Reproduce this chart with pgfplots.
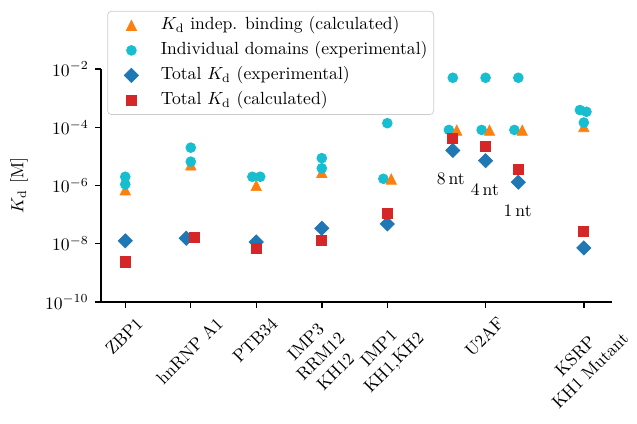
\documentclass[border=0pt]{standalone}
\usepackage{pgfplots}
\pgfplotsset{compat=1.18}
\usepackage{graphicx}
\definecolor{tOrange}{HTML}{FF7F0E}
\definecolor{tCyan}{HTML}{17BECF}
\definecolor{tBlue}{HTML}{1F77B4}
\definecolor{tRed}{HTML}{D62728}
\pgfdeclareplotmark{mtri}{%
 \pgfpathmoveto{\pgfqpoint{0pt}{\pgfplotmarksize}}%
 \pgfpathlineto{\pgfqpoint{-\pgfplotmarksize}{-\pgfplotmarksize}}%
 \pgfpathlineto{\pgfqpoint{\pgfplotmarksize}{-\pgfplotmarksize}}%
 \pgfpathclose\pgfusepathqfillstroke}
\newcommand{\rl}[1]{\rotatebox{45}{\begin{tabular}{@{}c@{}}#1\end{tabular}}}
\begin{document}
\begin{tikzpicture}
\begin{axis}[
 scale only axis, width=290.3pt, height=132.4pt,
 ymode=log, ymin=1e-10, ymax=1e-2,
 xmin=-0.37, xmax=7.43,
 axis x line*=bottom, axis y line*=left,
 axis line style={line width=0.8pt, black},
 tick align=outside, major tick length=3.5pt,
 every tick/.style={line width=0.8pt, black},
 ytick={1e-10,1e-8,1e-6,1e-4,1e-2},
 yminorticks=false,
 xtick={0,1,2,3,4,5.5,7},
 xticklabels={\rl{ZBP1}, \rl{hnRNP A1}, \rl{PTB34}, \rl{IMP3\\RRM12\\KH12}, \rl{IMP1\\KH1,KH2}, \rl{U2AF}, \rl{KSRP\\KH1 Mutant}},
 xticklabel style={anchor=north, inner sep=3.3pt},
 ylabel={$K_\mathrm{d}$ [M]},
 ylabel style={yshift=3pt},
 clip=false,
 legend cell align=left,
 legend image code/.code={\path[draw=none,fill=none] (0pt,0pt) -- (20pt,0pt); \draw[mark repeat=2,mark phase=2,#1] plot coordinates {(0pt,0pt)(10pt,0pt)(20pt,0pt)};},
 legend style={at={(0.0123,1.249)}, anchor=north west, draw=black!20, rounded corners=2pt,
   fill=white, inner xsep=3.5pt, inner ysep=3pt,
   nodes={inner sep=0pt, text height=7.5pt, text depth=2.5pt},
   row sep=4.2pt, /tikz/every odd column/.append style={column sep=6.7pt}},
]
\addplot[only marks, mark=mtri, mark size=2.9pt, color=tOrange, mark options={fill=tOrange, draw=tOrange}]
 coordinates {(0,7.1e-7) (1,5.1e-6) (2,1.0e-6) (3,2.8e-6) (7,1.05e-4)};
\addlegendentry{$K_\mathrm{d}$ indep. binding (calculated)}
\addplot[only marks, mark=*, mark size=2.8pt, color=tCyan, mark options={fill=tCyan, draw=tCyan}]
 coordinates {(0,2.0e-6) (0,1.1e-6) (1,2.0e-5) (1,6.6e-6) (1.94,2.0e-6) (2.06,2.0e-6)
 (3,8.7e-6) (3,3.9e-6) (4,1.38e-4) (3.94,1.7e-6)
 (5,5e-3) (4.94,8.1e-5) (5.5,5e-3) (5.44,8.1e-5) (6,5e-3) (5.94,8.1e-5)
 (6.94,3.9e-4) (7.04,3.4e-4) (7,1.45e-4)};
\addlegendentry{Individual domains (experimental)}
\addplot[only marks, mark=mtri, mark size=2.9pt, color=tOrange, mark options={fill=tOrange, draw=tOrange}, forget plot]
 coordinates {(4.06,1.66e-6) (5.06,7.9e-5) (5.56,7.9e-5) (6.06,7.9e-5)};
\addplot[only marks, mark=square*, mark size=2.85pt, color=tBlue, mark options={fill=tBlue, draw=tBlue, rotate=45}]
 coordinates {(0,1.26e-8) (0.93,1.55e-8) (2,1.15e-8) (3,3.4e-8) (4,4.8e-8)
 (5,1.6e-5) (5.5,7.1e-6) (6,1.3e-6) (7,7.2e-9)};
\addlegendentry{Total $K_\mathrm{d}$ (experimental)}
\addplot[only marks, mark=square*, mark size=2.85pt, color=tRed, mark options={fill=tRed, draw=tRed}]
 coordinates {(0,2.4e-9) (1.05,1.7e-8) (2,7.2e-9) (3,1.32e-8) (4,1.12e-7)
 (5,4.1e-5) (5.5,2.2e-5) (6,3.7e-6) (7,2.7e-8)};
\addlegendentry{Total $K_\mathrm{d}$ (calculated)}
\node at (axis cs:4.97,1.66e-6) {8\,nt};
\node at (axis cs:5.49,7.4e-7) {4\,nt};
\node at (axis cs:5.99,1.36e-7) {1\,nt};
\end{axis}
\pgfresetboundingbox
\path (-57.4pt,-68.75pt) rectangle (304.5pt,171.6pt);
\end{tikzpicture}
\end{document}
